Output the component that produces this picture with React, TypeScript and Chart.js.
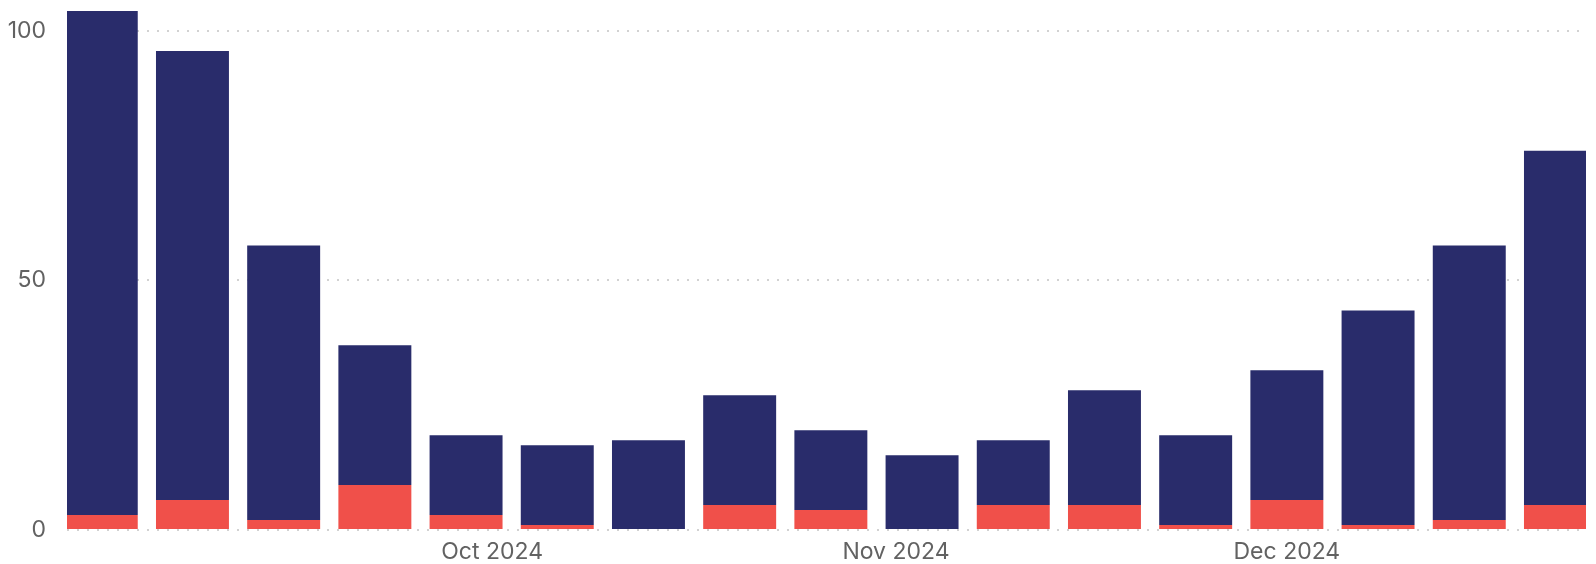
import React, { useEffect, useRef } from "react";
import { Chart, registerables } from "chart.js";

Chart.register(...registerables);

// Week-starting dates of each bar
const weekDates = [
  "2024-09-01", "2024-09-08", "2024-09-15", "2024-09-22", "2024-09-29",
  "2024-10-06", "2024-10-13", "2024-10-20", "2024-10-27", "2024-11-03",
  "2024-11-10", "2024-11-17", "2024-11-24", "2024-12-01", "2024-12-08",
  "2024-12-15", "2024-12-22",
];

// Bottom (red) series
const redValues = [3, 6, 2, 9, 3, 1, 0, 5, 4, 0, 5, 5, 1, 6, 1, 2, 5];
// Top (navy) series
const navyValues = [101, 90, 55, 28, 16, 16, 18, 22, 16, 15, 13, 23, 18, 26, 43, 55, 71];

// Month ticks on the x axis
const monthTickDates = ["2024-10-01", "2024-11-01", "2024-12-01"];
const monthTickLabels = ["Oct 2024", "Nov 2024", "Dec 2024"];

const yStep = 50;

const NAVY = "#292c6b";
const RED = "#f0504a";
const TICK_COLOR = "#626262";
const GRID_COLOR = "#d2d2d2";
const FONT = "Inter, 'Open Sans', sans-serif";

const toDay = (s: string) => {
  const [y, m, d] = s.split("-").map(Number);
  return Date.UTC(y, m - 1, d) / 86400000;
};

export default function App() {
  const ref = useRef<HTMLCanvasElement | null>(null);

  useEffect(() => {
    if (!ref.current) return;
    const xs = weekDates.map(toDay);
    const tickXs = monthTickDates.map(toDay);
    const totals = redValues.map((r, i) => r + navyValues[i]);
    const yMax = Math.max(...totals);

    const chart = new Chart(ref.current, {
      type: "bar",
      data: {
        datasets: [
          {
            label: "red",
            data: xs.map((x, i) => ({ x, y: redValues[i] })),
            backgroundColor: RED,
            borderWidth: 0,
            clip: 0,
          },
          {
            label: "navy",
            data: xs.map((x, i) => ({ x, y: navyValues[i] })),
            backgroundColor: NAVY,
            borderWidth: 0,
            clip: 0,
          },
        ],
      },
      options: {
        animation: false,
        responsive: false,
        layout: { padding: { left: 0, top: 11, right: 10, bottom: 0 } },
        plugins: {
          legend: { display: false },
          tooltip: { enabled: false },
        },
        datasets: {
          bar: { barPercentage: 1, categoryPercentage: 0.8 },
        },
        scales: {
          x: {
            type: "linear",
            offset: false,
            stacked: true,
            min: xs[0] - 2.63,
            max: xs[xs.length - 1] + 1.96,
            grid: { display: false, drawTicks: false },
            border: { display: false },
            afterBuildTicks: (scale: any) => {
              scale.ticks = tickXs.map((v) => ({ value: v }));
            },
            afterFit: (scale: any) => {
              scale.height = 34;
              scale.paddingLeft = 0;
              scale.paddingRight = 0;
            },
            ticks: {
              autoSkip: false,
              maxRotation: 0,
              padding: 11,
              color: TICK_COLOR,
              font: { family: FONT, size: 23, lineHeight: 1 },
              callback: (_v: any, i: number) => monthTickLabels[i],
            },
          },
          y: {
            stacked: true,
            min: 0,
            max: yMax,
            grid: {
              color: GRID_COLOR,
              lineWidth: 2,
              drawTicks: false,
            },
            border: { display: false, dash: [2, 8] },
            afterFit: (scale: any) => {
              scale.width = 67;
              scale.paddingTop = 0;
              scale.paddingBottom = 0;
            },
            ticks: {
              stepSize: yStep,
              includeBounds: false,
              padding: 21,
              color: TICK_COLOR,
              font: { family: FONT, size: 23, lineHeight: 1 },
            },
          },
        },
      },
    } as any);

    return () => chart.destroy();
  }, []);

  return (
    <canvas
      ref={ref}
      width={1596}
      height={564}
      style={{ position: "absolute", left: 0, top: 0, display: "block", width: 1596, height: 564 }}
    />
  );
}
